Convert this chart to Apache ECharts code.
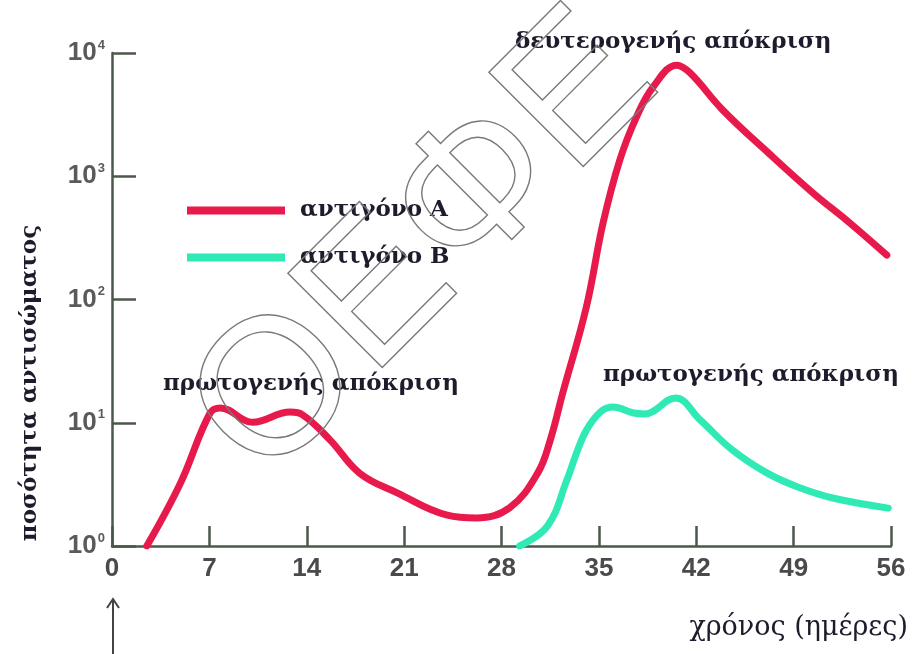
<!DOCTYPE html>
<html>
<head>
<meta charset="utf-8">
<script src="https://cdn.jsdelivr.net/npm/echarts@6/dist/echarts.min.js"></script>
<style>html,body{margin:0;padding:0;background:#fff;}#c{width:913px;height:654px;}</style>
</head>
<body>
<div id="c"></div>
<script>
// ---- data (days, antibody amount) ----
var seriesNames = ['αντιγόνο Α', 'αντιγόνο Β'];
var daysA = [2.5, 4.9, 7.05, 7.8, 10.1, 12.8, 13.7, 15.7, 17.8, 20.5, 24.1, 26.2, 28.6, 30.6, 31.5, 32.4, 34.1, 35.3, 36.5, 37.7, 38.9, 40.6, 41.55, 43.9, 47.2, 50.4, 53.05, 55.7];
var valsA = [1.0, 3.2, 12, 13.2, 10.1, 12.2, 11.6, 7.2, 3.9, 2.7, 1.78, 1.69, 2.05, 3.9, 7.2, 17.4, 87, 417, 1350, 3020, 5300, 7970, 6900, 3450, 1540, 730, 417, 229];
var daysB = [29.3, 31.3, 32.7, 33.4, 34.1, 35.1, 36.0, 37.5, 38.3, 40.5, 42.3, 44.6, 47.1, 49.5, 51.8, 55.8];
var valsB = [1.0, 1.45, 3.43, 5.7, 8.7, 12.2, 13.4, 12.0, 11.8, 15.9, 10.5, 6.0, 3.9, 2.95, 2.45, 2.03];
var xTicks = [0, 7, 14, 21, 28, 35, 42, 49, 56];
var annotations = ['δευτερογενής απόκριση', 'πρωτογενής απόκριση', 'πρωτογενής απόκριση'];
var yName = 'ποσότητα αντισώματος';
var xName = 'χρόνος (ημέρες)';
var watermark = 'ΟΕΦΕ';

function pairs(d, v) { return d.map(function (x, i) { return [x, v[i]]; }); }

var serif = '"DejaVu Serif", "Liberation Serif", serif';
var narrow = '"Liberation Sans Narrow", "Liberation Sans", sans-serif';
var axisColor = '#4b584b';
var textColor = '#1c1c2c';
var chart = echarts.init(document.getElementById('c'));
chart.setOption({
  animation: false,
  backgroundColor: '#fff',
  grid: { left: 112, right: 22, top: 53, bottom: 108, containLabel: false },
  legend: {
    orient: 'vertical', left: 182, top: 194, itemWidth: 98, itemHeight: 8, itemGap: 24,
    icon: 'rect',
    textStyle: { fontFamily: serif, fontWeight: 'bold', fontSize: 23, color: textColor, padding: [0, 0, 0, 10] },
    data: seriesNames
  },
  xAxis: {
    type: 'value', min: 0, max: 56, interval: 7,
    axisLine: { lineStyle: { color: axisColor, width: 2.5 } },
    axisTick: { inside: true, length: 20, lineStyle: { color: axisColor, width: 2.5 } },
    splitLine: { show: false },
    axisLabel: {
      margin: 10, color: '#4a4a4a', fontSize: 26, fontWeight: 'bold', fontFamily: narrow,
      customValues: xTicks
    }
  },
  yAxis: {
    type: 'log', logBase: 10, min: 1, max: 10000,
    axisLine: { show: true, lineStyle: { color: axisColor, width: 2.5 } },
    axisTick: { inside: true, length: 24, lineStyle: { color: axisColor, width: 2.5 } },
    splitLine: { show: false },
    axisLabel: {
      margin: 7,
      formatter: function (v) { return '{b|10}{s|' + Math.round(Math.log10(v)) + '}'; },
      rich: {
        b: { fontSize: 26, fontWeight: 'bold', color: '#5a5a5a', fontFamily: narrow },
        s: { fontSize: 13, fontWeight: 'bold', color: '#5a5a5a', padding: [0, 0, 16, 1], fontFamily: narrow }
      }
    }
  },
  series: [
    { name: seriesNames[0], type: 'line', smooth: 0.4, showSymbol: false, data: pairs(daysA, valsA),
      itemStyle: { color: '#e81a4b' }, lineStyle: { color: '#e81a4b', width: 7, cap: 'round', join: 'round' }, z: 3 },
    { name: seriesNames[1], type: 'line', smooth: 0.4, showSymbol: false, data: pairs(daysB, valsB),
      itemStyle: { color: '#30eab5' }, lineStyle: { color: '#30eab5', width: 7, cap: 'round', join: 'round' }, z: 2 }
  ],
  graphic: [
    { type: 'text', x: 515, y: 42, style: { text: annotations[0], font: 'bold 23px ' + serif, fill: textColor, verticalAlign: 'middle' } },
    { type: 'text', x: 163, y: 384, style: { text: annotations[1], font: 'bold 23px ' + serif, fill: textColor, verticalAlign: 'middle' } },
    { type: 'text', x: 603, y: 375, style: { text: annotations[2], font: 'bold 23px ' + serif, fill: textColor, verticalAlign: 'middle' } },
    { type: 'text', x: 30, y: 383, rotation: Math.PI / 2,
      style: { text: yName, font: 'bold 23px ' + serif, fill: textColor, align: 'center', verticalAlign: 'middle' } },
    { type: 'text', x: 908, y: 628, style: { text: xName, font: '27px ' + serif, fill: textColor, align: 'right', verticalAlign: 'middle' } },
    { type: 'polyline', shape: { points: [[113, 654], [113, 600]] }, style: { stroke: '#444', lineWidth: 2, fill: null } },
    { type: 'polyline', shape: { points: [[107, 608], [113, 599], [119, 608]] }, style: { stroke: '#444', lineWidth: 2, fill: null } },
    { type: 'text', x: 426, y: 248, rotation: Math.PI / 4, z: 10, silent: true,
      style: { text: watermark, font: '194px "Liberation Sans", sans-serif', fill: 'rgba(0,0,0,0)', stroke: '#7a7a7a', lineWidth: 1.4, align: 'center', verticalAlign: 'middle' } }
  ]
});
</script>
</body>
</html>
